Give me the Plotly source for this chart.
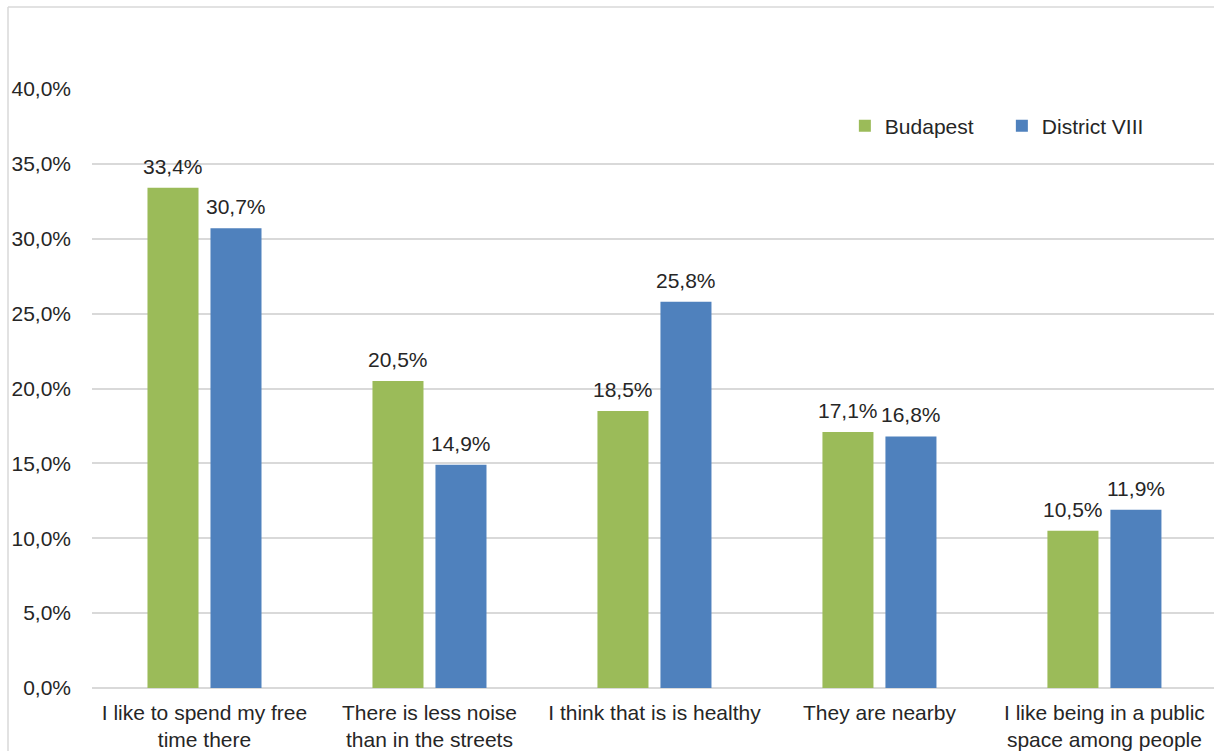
import plotly.graph_objects as go

# Survey answers (share of respondents, %)
categories = [
    "I like to spend my free<br>time there",
    "There is less noise<br>than in the streets",
    "I think that is is healthy",
    "They are nearby",
    "I like being in a public<br>space among people",
]
budapest = [33.4, 20.5, 18.5, 17.1, 10.5]
district_viii = [30.7, 14.9, 25.8, 16.8, 11.9]

GREEN = "#9BBB59"
BLUE = "#4F81BD"
TEXT = "#262626"
GRID = "#D9D9D9"
FONT = "Liberation Sans, Arial, sans-serif"

BARGAP = 0.44
X_RANGE = [-0.5, 4.487]
PLOT_W = 1214 - 92


def pct_label(v):
    return f"{v:.1f}%".replace(".", ",")


fig = go.Figure()
series = [("Budapest", budapest, GREEN), ("District VIII", district_viii, BLUE)]
for name, vals, col in series:
    fig.add_trace(go.Bar(
        x=categories, y=vals, name=name,
        marker=dict(color=col, line=dict(width=0)),
    ))

# value labels above each bar, offset to the bar's slot within the group
cat_px = PLOT_W / (X_RANGE[1] - X_RANGE[0])
slot_half = (1 - BARGAP) * cat_px / 4
annotations = []
for i, (name, vals, col) in enumerate(series):
    shift = -slot_half if i == 0 else slot_half
    for cat, v in zip(categories, vals):
        annotations.append(dict(
            x=cat, y=v, xref="x", yref="y",
            text=pct_label(v), showarrow=False,
            xanchor="center", yanchor="bottom",
            xshift=shift, yshift=8,
            font=dict(size=21, color=TEXT, family=FONT),
        ))

fig.update_layout(
    width=1214, height=751,
    margin=dict(l=92, r=0, t=89, b=63),
    paper_bgcolor="white", plot_bgcolor="white",
    font=dict(family=FONT, size=21, color=TEXT),
    separators=",.",
    barmode="group",
    bargap=BARGAP,
    bargroupgap=0.19,
    showlegend=True,
    legend=dict(
        orientation="h",
        x=0.671, xanchor="left",
        y=0.938, yanchor="middle",
        font=dict(size=21, color=TEXT),
        entrywidth=112,
        bgcolor="rgba(0,0,0,0)",
    ),
    xaxis=dict(
        range=X_RANGE,
        showgrid=False,
        showline=False,
        ticks="",
        ticklabelstandoff=10,
        tickfont=dict(size=21, color=TEXT),
    ),
    yaxis=dict(
        range=[0, 40],
        dtick=5,
        tickformat=".1f",
        ticksuffix="%",
        showgrid=True,
        gridcolor=GRID,
        gridwidth=1.5,
        zeroline=True,
        zerolinecolor=GRID,
        zerolinewidth=1.5,
        showline=False,
        ticks="",
        ticklabelstandoff=20,
        tickfont=dict(size=21, color=TEXT),
    ),
    annotations=annotations,
    shapes=[
        # outer chart frame (top and left edges)
        dict(type="line", xref="paper", yref="paper",
             x0=(8 - 92) / 1122, x1=1.05, y0=(688 - 7) / 599, y1=(688 - 7) / 599,
             line=dict(color=GRID, width=1.5)),
        dict(type="line", xref="paper", yref="paper",
             x0=(8 - 92) / 1122, x1=(8 - 92) / 1122, y0=(688 - 7) / 599, y1=-0.2,
             line=dict(color=GRID, width=1.5)),
    ],
)

fig.write_html("out.html")
